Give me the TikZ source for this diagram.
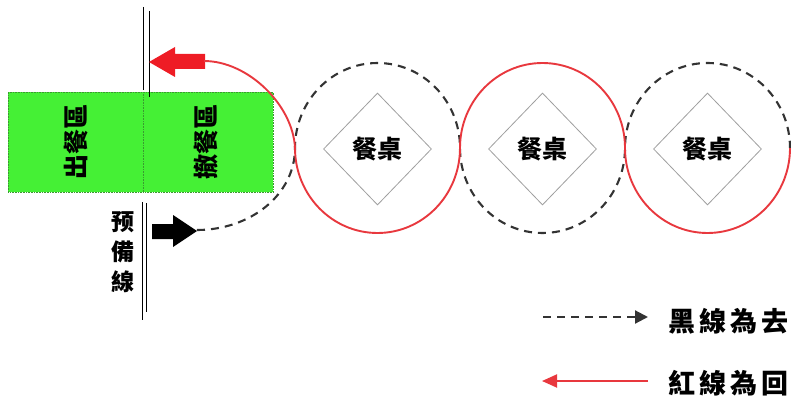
\documentclass[tikz,border=0pt]{standalone}
\usepackage{fontspec}
\newfontfamily\cjk{Noto Sans CJK TC}
\usetikzlibrary{shapes.geometric,arrows.meta}
\definecolor{zonegreen}{HTML}{45F035}
\definecolor{zoneedge}{HTML}{3A9A30}
\definecolor{retred}{HTML}{E8383E}
\definecolor{arrred}{HTML}{EE1C25}
\definecolor{goline}{HTML}{333333}
\begin{document}
\begin{tikzpicture}[x=1pt,y=1pt,
  golinestyle/.style={goline, line width=2.1pt, dash pattern=on 8pt off 6pt},
  retline/.style={retred, line width=1.9pt},
  zone/.style={fill=zonegreen, draw=zoneedge, densely dotted, line width=0.6pt},
  zonetext/.style={font=\cjk\bfseries\fontsize{25}{25}\selectfont, rotate=90, inner sep=0pt},
  tablebox/.style={diamond, draw=gray!75, line width=0.8pt, minimum width=108pt, minimum height=112pt, inner sep=0pt, font=\cjk\bfseries\fontsize{25}{25}\selectfont},
  sidetext/.style={font=\cjk\bfseries\fontsize{23}{30}\selectfont, align=center, inner sep=0pt},
  legendtext/.style={font=\cjk\bfseries\fontsize{27}{27}\selectfont, inner sep=0pt},
  barline/.style={black, line width=1pt}
]
\useasboundingbox (0,0) rectangle (791,-398);

% green zones
\node[zone, minimum width=135pt, minimum height=100pt, anchor=north west, inner sep=0pt] (outzone) at (8,-92) {};
\node[zone, minimum width=130pt, minimum height=100pt, anchor=north west, inner sep=0pt] (clearzone) at (143,-92) {};
\node[zonetext] (outtext) at (76,-142) {出餐區};
\node[zonetext] (cleartext) at (206,-142) {撤餐區};

% double bars
\coordinate (ta1) at (143,-7);  \coordinate (tb1) at (143,-90);
\coordinate (ta2) at (149,-11); \coordinate (tb2) at (149,-97);
\draw[barline] (ta1) -- (tb1);
\draw[barline] (ta2) -- (tb2);
\coordinate (ba1) at (142,-202); \coordinate (bb1) at (142,-320);
\coordinate (ba2) at (146,-203); \coordinate (bb2) at (146,-312);
\draw[barline] (ba1) -- (bb1);
\draw[barline] (ba2) -- (bb2);

\node[sidetext] (ready) at (123,-252) {预\\備\\線};

% block arrows
\fill[arrred] (149,-62) -- (175,-47) -- (175,-54) -- (205,-54) -- (205,-69) -- (175,-69) -- (175,-77) -- cycle;
\coordinate (rettail) at (204,-61);
\fill[black] (152,-224) -- (173,-224) -- (173,-215) -- (197,-231) -- (173,-247) -- (173,-239) -- (152,-239) -- cycle;
\coordinate (gotip) at (197,-230);

% tables
\node[tablebox] (t1) at (377.5,-149) {餐桌};
\node[tablebox] (t2) at (542.5,-149) {餐桌};
\node[tablebox] (t3) at (707.5,-149) {餐桌};

% go path (black dashed)
\coordinate (c1l) at (295,-148);
\draw[golinestyle] (gotip) .. controls (250,-230) and (295,-195) .. (c1l)
  arc[start angle=180, end angle=0, x radius=82.5pt, y radius=85pt]
  arc[start angle=180, end angle=360, x radius=82.5pt, y radius=85pt]
  arc[start angle=180, end angle=0, x radius=82.5pt, y radius=85pt];

% return path (red)
\coordinate (c3r) at (790,-148);
\draw[retline] (c3r)
  arc[start angle=0, end angle=-180, x radius=82.5pt, y radius=85pt]
  arc[start angle=0, end angle=180, x radius=82.5pt, y radius=85pt]
  arc[start angle=0, end angle=-180, x radius=82.5pt, y radius=85pt]
  .. controls (293,-105) and (248,-61) .. (rettail);

% legend
\coordinate (lg1a) at (543,-317); \coordinate (lg1b) at (648,-317);
\draw[golinestyle, -{Triangle[length=13pt,width=13pt]}] (lg1a) -- (lg1b);
\node[legendtext] (lgt1) at (728,-321) {黑\hspace{4pt}線\hspace{4pt}為\hspace{4pt}去};
\coordinate (lg2a) at (648,-381); \coordinate (lg2b) at (542,-381);
\draw[retline, -{Triangle[length=15pt,width=13pt]}] (lg2a) -- (lg2b);
\node[legendtext] (lgt2) at (728,-383) {紅\hspace{4pt}線\hspace{4pt}為\hspace{4pt}回};
\end{tikzpicture}
\end{document}
